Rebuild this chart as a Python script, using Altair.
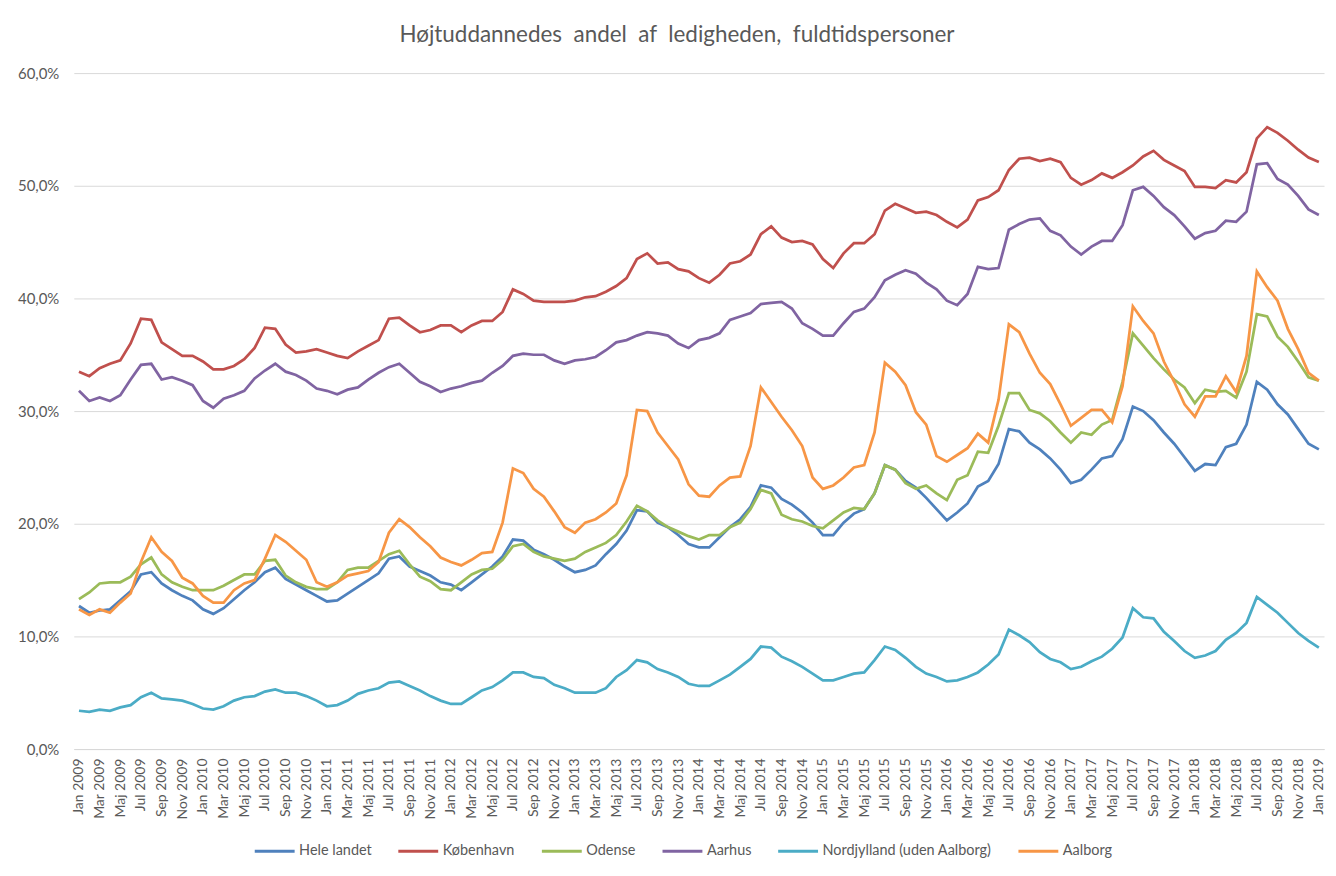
import altair as alt
import pandas as pd

# ---- Tick labels (Danish month names) ----
month_names = ["Jan", "Feb", "Mar", "Apr", "Maj", "Jun", "Jul", "Aug", "Sep", "Okt", "Nov", "Dec"]
years = list(range(2009, 2020))
month_labels = [f"{m} {y}" for y in years for m in month_names][:121]  # Jan 2009 .. Jan 2019

series_names = ["Hele landet", "København", "Odense", "Aarhus", "Nordjylland (uden Aalborg)", "Aalborg"]
series_colors = ["#4F81BD", "#C0504D", "#9BBB59", "#8064A2", "#4BACC6", "#F79646"]

# ---- Series values (percent) ----
hele_landet = [
    12.7, 12.1, 12.3, 12.4, 13.2, 14.0, 15.5, 15.7, 14.7, 14.1, 13.6, 13.2, 12.4, 12.0, 12.5, 13.3, 14.1, 14.8, 15.7, 16.1, 15.1,
    14.6, 14.1, 13.6, 13.1, 13.2, 13.8, 14.4, 15.0, 15.6, 16.9, 17.1, 16.2, 15.8, 15.4, 14.8, 14.6, 14.1, 14.8, 15.5, 16.2,
    17.1, 18.6, 18.5, 17.7, 17.3, 16.8, 16.2, 15.7, 15.9, 16.3, 17.3, 18.2, 19.4, 21.2, 21.1, 20.1, 19.7, 19.0, 18.2, 17.9,
    17.9, 18.8, 19.7, 20.4, 21.5, 23.4, 23.2, 22.2, 21.7, 21.0, 20.1, 19.0, 19.0, 20.1, 20.9, 21.3, 22.7, 25.2, 24.8, 23.8,
    23.2, 22.3, 21.3, 20.3, 21.0, 21.8, 23.3, 23.8, 25.3, 28.4, 28.2, 27.2, 26.6, 25.8, 24.8, 23.6, 23.9, 24.8, 25.8, 26.0,
    27.5, 30.4, 30.0, 29.2, 28.1, 27.1, 25.9, 24.7, 25.3, 25.2, 26.8, 27.1, 28.8, 32.6, 31.9, 30.6, 29.7, 28.4, 27.1, 26.6,
]
koebenhavn = [
    33.5, 33.1, 33.8, 34.2, 34.5, 36.0, 38.2, 38.1, 36.1, 35.5, 34.9, 34.9, 34.4, 33.7, 33.7, 34.0, 34.6, 35.6, 37.4, 37.3, 35.9,
    35.2, 35.3, 35.5, 35.2, 34.9, 34.7, 35.3, 35.8, 36.3, 38.2, 38.3, 37.6, 37.0, 37.2, 37.6, 37.6, 37.0, 37.6, 38.0, 38.0,
    38.8, 40.8, 40.4, 39.8, 39.7, 39.7, 39.7, 39.8, 40.1, 40.2, 40.6, 41.1, 41.8, 43.5, 44.0, 43.1, 43.2, 42.6, 42.4, 41.8,
    41.4, 42.1, 43.1, 43.3, 43.9, 45.7, 46.4, 45.4, 45.0, 45.1, 44.8, 43.5, 42.7, 44.0, 44.9, 44.9, 45.7, 47.8, 48.4, 48.0,
    47.6, 47.7, 47.4, 46.8, 46.3, 47.0, 48.7, 49.0, 49.6, 51.4, 52.4, 52.5, 52.2, 52.4, 52.1, 50.7, 50.1, 50.5, 51.1, 50.7,
    51.2, 51.8, 52.6, 53.1, 52.3, 51.8, 51.3, 49.9, 49.9, 49.8, 50.5, 50.3, 51.2, 54.2, 55.2, 54.7, 54.0, 53.2, 52.5, 52.1,
]
odense = [
    13.3, 13.9, 14.7, 14.8, 14.8, 15.3, 16.4, 17.0, 15.5, 14.8, 14.4, 14.1, 14.1, 14.1, 14.5, 15.0, 15.5, 15.5, 16.7, 16.8, 15.4,
    14.8, 14.4, 14.2, 14.2, 14.8, 15.9, 16.1, 16.1, 16.7, 17.3, 17.6, 16.4, 15.3, 14.9, 14.2, 14.1, 14.8, 15.5, 15.9, 16.0,
    16.8, 18.0, 18.2, 17.5, 17.1, 16.9, 16.7, 16.9, 17.5, 17.9, 18.3, 19.0, 20.2, 21.6, 21.1, 20.3, 19.7, 19.3, 18.9, 18.6,
    19.0, 19.0, 19.7, 20.1, 21.3, 23.0, 22.7, 20.8, 20.4, 20.2, 19.8, 19.6, 20.3, 21.0, 21.4, 21.3, 22.7, 25.2, 24.8, 23.6,
    23.1, 23.4, 22.7, 22.1, 23.9, 24.3, 26.4, 26.3, 28.7, 31.6, 31.6, 30.1, 29.8, 29.1, 28.1, 27.2, 28.1, 27.9, 28.8, 29.2,
    32.6, 36.9, 35.8, 34.7, 33.7, 32.8, 32.1, 30.7, 31.9, 31.7, 31.8, 31.2, 33.5, 38.6, 38.4, 36.6, 35.7, 34.4, 33.0, 32.7,
]
aarhus = [
    31.8, 30.9, 31.2, 30.9, 31.4, 32.8, 34.1, 34.2, 32.8, 33.0, 32.7, 32.3, 30.9, 30.3, 31.1, 31.4, 31.8, 32.9, 33.6, 34.2, 33.5,
    33.2, 32.7, 32.0, 31.8, 31.5, 31.9, 32.1, 32.8, 33.4, 33.9, 34.2, 33.4, 32.6, 32.2, 31.7, 32.0, 32.2, 32.5, 32.7, 33.4,
    34.0, 34.9, 35.1, 35.0, 35.0, 34.5, 34.2, 34.5, 34.6, 34.8, 35.4, 36.1, 36.3, 36.7, 37.0, 36.9, 36.7, 36.0, 35.6, 36.3,
    36.5, 36.9, 38.1, 38.4, 38.7, 39.5, 39.6, 39.7, 39.1, 37.8, 37.3, 36.7, 36.7, 37.8, 38.8, 39.1, 40.1, 41.6, 42.1, 42.5,
    42.2, 41.4, 40.8, 39.8, 39.4, 40.4, 42.8, 42.6, 42.7, 46.1, 46.6, 47.0, 47.1, 46.0, 45.6, 44.6, 43.9, 44.6, 45.1, 45.1,
    46.5, 49.6, 49.9, 49.1, 48.1, 47.4, 46.4, 45.3, 45.8, 46.0, 46.9, 46.8, 47.7, 51.9, 52.0, 50.6, 50.1, 49.1, 47.9, 47.4,
]
nordjylland = [
    3.4, 3.3, 3.5, 3.4, 3.7, 3.9, 4.6, 5.0, 4.5, 4.4, 4.3, 4.0, 3.6, 3.5, 3.8, 4.3, 4.6, 4.7, 5.1, 5.3, 5.0,
    5.0, 4.7, 4.3, 3.8, 3.9, 4.3, 4.9, 5.2, 5.4, 5.9, 6.0, 5.6, 5.2, 4.7, 4.3, 4.0, 4.0, 4.6, 5.2, 5.5,
    6.1, 6.8, 6.8, 6.4, 6.3, 5.7, 5.4, 5.0, 5.0, 5.0, 5.4, 6.4, 7.0, 7.9, 7.7, 7.1, 6.8, 6.4, 5.8, 5.6,
    5.6, 6.1, 6.6, 7.3, 8.0, 9.1, 9.0, 8.2, 7.8, 7.3, 6.7, 6.1, 6.1, 6.4, 6.7, 6.8, 7.9, 9.1, 8.8, 8.1,
    7.3, 6.7, 6.4, 6.0, 6.1, 6.4, 6.8, 7.5, 8.4, 10.6, 10.1, 9.5, 8.6, 8.0, 7.7, 7.1, 7.3, 7.8, 8.2, 8.9,
    9.9, 12.5, 11.7, 11.6, 10.4, 9.6, 8.7, 8.1, 8.3, 8.7, 9.7, 10.3, 11.2, 13.5, 12.8, 12.1, 11.2, 10.3, 9.6, 9.0,
]
aalborg = [
    12.4, 11.9, 12.4, 12.1, 13.0, 13.8, 16.6, 18.8, 17.5, 16.7, 15.2, 14.7, 13.6, 13.0, 13.0, 14.1, 14.7, 15.0, 16.9, 19.0, 18.4,
    17.6, 16.8, 14.8, 14.4, 14.8, 15.4, 15.6, 15.8, 16.6, 19.2, 20.4, 19.7, 18.8, 18.0, 17.0, 16.6, 16.3, 16.8, 17.4, 17.5,
    20.1, 24.9, 24.5, 23.1, 22.4, 21.1, 19.7, 19.2, 20.1, 20.4, 21.0, 21.8, 24.3, 30.1, 30.0, 28.1, 26.9, 25.7, 23.5, 22.5,
    22.4, 23.4, 24.1, 24.2, 26.9, 32.1, 30.8, 29.5, 28.3, 26.9, 24.1, 23.1, 23.4, 24.1, 25.0, 25.2, 28.1, 34.3, 33.5, 32.3,
    29.9, 28.8, 26.0, 25.5, 26.1, 26.7, 28.0, 27.2, 31.0, 37.7, 37.0, 35.1, 33.4, 32.4, 30.6, 28.7, 29.4, 30.1, 30.1, 29.0,
    32.2, 39.3, 38.0, 36.9, 34.4, 32.6, 30.6, 29.5, 31.3, 31.3, 33.1, 31.7, 34.9, 42.4, 41.0, 39.8, 37.3, 35.5, 33.4, 32.7,
]

all_series = [hele_landet, koebenhavn, odense, aarhus, nordjylland, aalborg]

rows = []
for name, vals in zip(series_names, all_series):
    for i, v in enumerate(vals):
        rows.append({"month": month_labels[i], "idx": i, "series": name, "value": v})
df = pd.DataFrame(rows)

FONT = "Lato"
GREY = "#595959"
GRID = "#d9d9d9"
NB = "\u00a0"
title_text = f"Højtuddannedes{NB} andel{NB} af{NB} ledigheden,{NB} fuldtidspersoner"

chart = (
    alt.Chart(df)
    .mark_line(strokeWidth=2.75)
    .encode(
        x=alt.X(
            "month:O",
            sort=month_labels,
            scale=alt.Scale(type="point", padding=0.5),
            axis=alt.Axis(
                values=month_labels[::2],
                labelAngle=-90,
                title=None,
                ticks=False,
                domainColor=GRID,
                labelFont=FONT,
                labelFontSize=14,
                labelColor=GREY,
                labelPadding=9,
                grid=False,
            ),
        ),
        y=alt.Y(
            "value:Q",
            scale=alt.Scale(domain=[0, 60], nice=False),
            axis=alt.Axis(
                values=[0, 10, 20, 30, 40, 50, 60],
                labelExpr="replace(format(datum.value, '.1f'), '.', ',') + '%'",
                title=None,
                ticks=False,
                domain=False,
                gridColor=GRID,
                labelFont=FONT,
                labelFontSize=15,
                labelColor=GREY,
                labelPadding=15,
            ),
        ),
        color=alt.Color(
            "series:N",
            sort=series_names,
            scale=alt.Scale(domain=series_names, range=series_colors),
            legend=alt.Legend(
                title=None,
                orient="none",
                direction="horizontal",
                legendX=180,
                legendY=759,
                symbolType="stroke",
                symbolSize=1600,
                symbolStrokeWidth=3,
                labelFont=FONT,
                labelFontSize=14.5,
                labelColor=GREY,
                labelOffset=3,
                labelLimit=400,
                columnPadding=20,
                gridAlign="none",
            ),
        ),
        order=alt.Order("idx:Q"),
    )
    .properties(
        width=1254,
        height=678,
        title=alt.TitleParams(
            title_text,
            anchor="middle",
            fontSize=22.5,
            font=FONT,
            fontWeight="normal",
            color=GREY,
            offset=20,
            dx=-22,
        ),
        autosize=alt.AutoSizeParams(type="none"),
        padding={"left": 66, "top": 64, "right": 4, "bottom": 118},
    )
    .configure_view(stroke=None)
)

chart.save("out.html", embed_options={"renderer": "svg", "actions": False})
